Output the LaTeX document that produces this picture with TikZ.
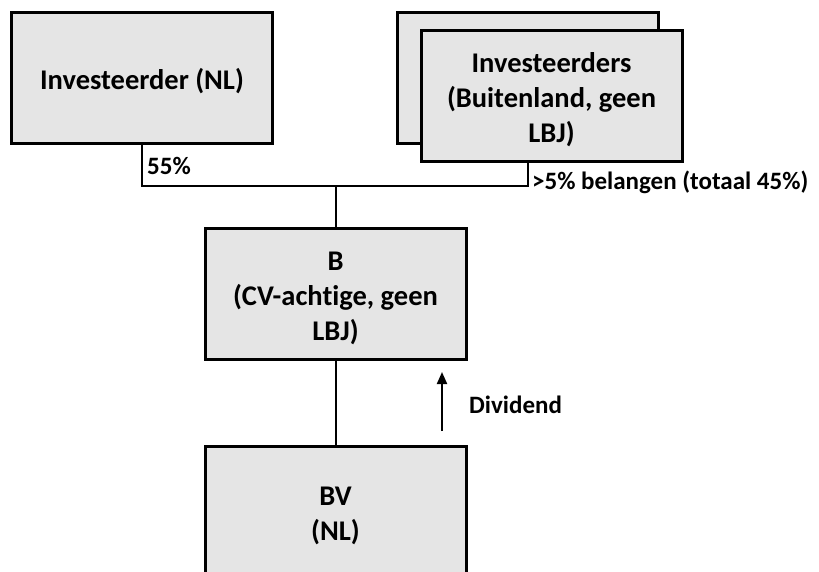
\documentclass[tikz,border=0pt]{standalone}
\usepackage{fontspec}
\setmainfont{Carlito}[Ligatures=NoCommon]
\usetikzlibrary{arrows.meta,backgrounds}
\newcommand\toppad{\rule{0pt}{27pt}}
\begin{document}
\begin{tikzpicture}[x=1pt,y=-1pt,
  box/.style={draw=black,line width=3pt,fill=gray!20,rectangle,minimum width=261pt,minimum height=131pt,inner sep=0pt,align=center,font=\bfseries\fontsize{28.5}{35}\selectfont},
  conn/.style={draw=black,line width=2pt},
  lbl/.style={anchor=west,inner sep=0pt,font=\bfseries\fontsize{25}{28}\selectfont}]
\clip (0,0) rectangle (819,571);
\coordinate (j) at (335.5,186);
\node[box] (inl) at (142,78) {\toppad Investeerder (NL)};
\node[box] (back) at (527.5,77.5) {};
\node[box] (front) at (551.5,96) {\toppad Investeerders\\(Buitenland, geen\\LBJ)};
\node[box] (b) at (335.5,294) {\toppad B\\(CV-achtige, geen\\LBJ)};
\node[box] (bv) at (335.5,511.5) {\toppad BV\\(NL)};
\begin{scope}[on background layer]
\fill[white] (0,0) rectangle (819,571);
\draw[conn] (inl.south) |- (j);
\draw[conn] (j) -| (back.south);
\draw[conn] (j) -- (b.north);
\draw[conn] (b.south) -- (bv.north);
\end{scope}
\coordinate (as) at (442,431);
\coordinate (ae) at (442,372);
\draw[conn,-{Triangle[length=12pt,width=10pt]}] (as) -- (ae);
\node[lbl] (p55) at (147,166) {55\%};
\node[lbl] (p45) at (532,182) {>5\% belangen (totaal 45\%)};
\node[lbl] (div) at (469,405) {Dividend};
\end{tikzpicture}
\end{document}
